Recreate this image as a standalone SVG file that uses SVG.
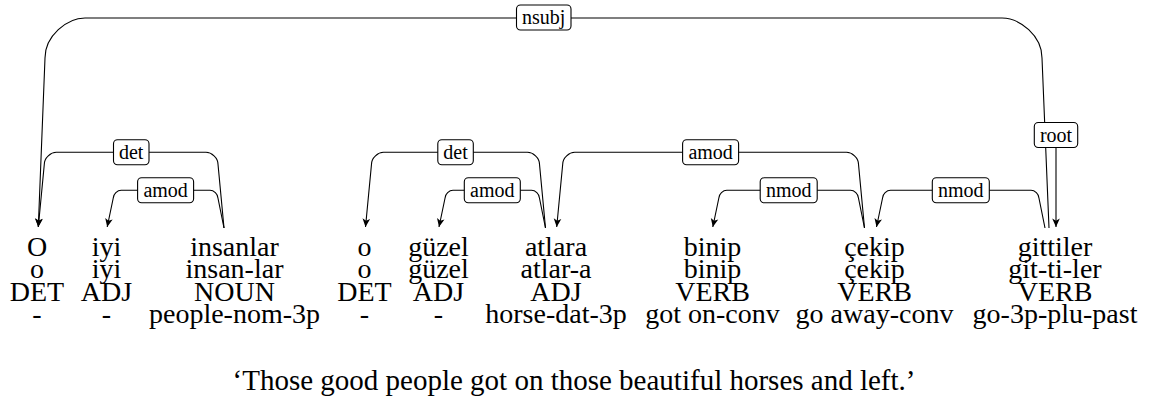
<svg xmlns="http://www.w3.org/2000/svg" width="1151" height="410" viewBox="0 0 1151 410">
  <style>
    .w { font-family: "Liberation Serif", "Times New Roman", serif; font-size: 28px; fill: #000; text-anchor: middle; }
    .tr { font-family: "Liberation Serif", "Times New Roman", serif; font-size: 29px; fill: #000; text-anchor: middle; }
    .lbl { font-family: "Liberation Serif", "Times New Roman", serif; font-size: 20px; fill: #000; text-anchor: middle; }
    .box { fill: #fff; stroke: #000; stroke-width: 1.1; }
    .edge { fill: none; stroke: #000; stroke-width: 1.1; }
    .dep { marker-end: url(#tip); }
  </style>
  <defs>
    <marker id="tip" markerUnits="userSpaceOnUse" viewBox="-10 -5 11 10" refX="0" refY="0" markerWidth="11" markerHeight="10" orient="auto">
      <path d="M0,0 L-8.5,-3.8 L-6.3,0 L-8.5,3.8 Z" fill="#000"/>
    </marker>
  </defs>

  <!-- dependency arcs: head (right) to dependent (left, arrowed) -->
  <g id="connectors">
    <path id="e-nsubj" class="edge dep" d="M1049,228 L1042,58 C1042,35.9 1019.9,18 1002,18 L85,18 C67.1,18 45,35.9 45,58 L38.3,227"/>
    <path id="e-det1" class="edge dep" d="M224,228 L218,164.3 C218,157.7 211.4,152.3 206,152.3 L56.3,152.3 C50.9,152.3 44.3,157.7 44.3,164.3 L38.3,227"/>
    <path id="e-amod1" class="edge dep" d="M224,228 L218,198.3 C218,193.9 213.6,190.3 210,190.3 L121.2,190.3 C117.6,190.3 113.2,193.9 113.2,198.3 L107.2,227"/>
    <path id="e-det2" class="edge dep" d="M545.5,228 L539.5,164.3 C539.5,157.7 532.9,152.3 527.5,152.3 L383.5,152.3 C378.1,152.3 371.5,157.7 371.5,164.3 L365.5,227"/>
    <path id="e-amod2" class="edge dep" d="M545.5,228 L539.5,198.3 C539.5,193.9 535.1,190.3 531.5,190.3 L453,190.3 C449.4,190.3 445,193.9 445,198.3 L439,227"/>
    <path id="e-amod3" class="edge dep" d="M864.5,228 L858.5,164.3 C858.5,157.7 851.9,152.3 846.5,152.3 L574.7,152.3 C569.3,152.3 562.7,157.7 562.7,164.3 L556.7,227"/>
    <path id="e-nmod1" class="edge dep" d="M864.5,228 L858.5,198.3 C858.5,193.9 854.1,190.3 850.5,190.3 L726.8,190.3 C723.2,190.3 718.8,193.9 718.8,198.3 L712.8,227"/>
    <path id="e-nmod2" class="edge dep" d="M1045,228 L1039,198.3 C1039,193.9 1034.6,190.3 1031,190.3 L890.5,190.3 C886.9,190.3 882.5,193.9 882.5,198.3 L876.5,227"/>
    <path id="e-root" class="edge dep" d="M1056,147.5 L1056,227"/>
  </g>

  <!-- arc labels -->
  <g id="edge-labels">
    <g id="l-nsubj"><rect class="box" x="516.5" y="5" width="54.5" height="25" rx="4"/><text class="lbl" x="543.7" y="24">nsubj</text></g>
    <g id="l-det1"><rect class="box" x="113.5" y="139.8" width="35.5" height="25" rx="4"/><text class="lbl" x="131.2" y="158.8">det</text></g>
    <g id="l-amod1"><rect class="box" x="137.6" y="177.8" width="56" height="25" rx="4"/><text class="lbl" x="165.6" y="196.8">amod</text></g>
    <g id="l-det2"><rect class="box" x="437.8" y="139.8" width="35.5" height="25" rx="4"/><text class="lbl" x="455.5" y="158.8">det</text></g>
    <g id="l-amod2"><rect class="box" x="464.3" y="177.8" width="56" height="25" rx="4"/><text class="lbl" x="492.3" y="196.8">amod</text></g>
    <g id="l-amod3"><rect class="box" x="682.6" y="139.8" width="56" height="25" rx="4"/><text class="lbl" x="710.6" y="158.8">amod</text></g>
    <g id="l-nmod1"><rect class="box" x="760.2" y="177.8" width="57" height="25" rx="4"/><text class="lbl" x="788.7" y="196.8">nmod</text></g>
    <g id="l-nmod2"><rect class="box" x="932.3" y="177.8" width="57" height="25" rx="4"/><text class="lbl" x="960.8" y="196.8">nmod</text></g>
    <g id="l-root"><rect class="box" x="1034.3" y="122.5" width="43.4" height="25" rx="4"/><text class="lbl" x="1056" y="141.5">root</text></g>
  </g>

  <!-- word columns: form / segmentation / POS / gloss -->
  <g id="w1"><text class="w" x="37" y="255.5">O</text><text class="w" x="37" y="278">o</text><text class="w" x="37" y="300.5">DET</text><text class="w" x="37" y="323">-</text></g>
  <g id="w2"><text class="w" x="106.5" y="255.5">iyi</text><text class="w" x="106.5" y="278">iyi</text><text class="w" x="106.5" y="300.5">ADJ</text><text class="w" x="106.5" y="323">-</text></g>
  <g id="w3"><text class="w" x="234.5" y="255.5">insanlar</text><text class="w" x="234.5" y="278">insan-lar</text><text class="w" x="234.5" y="300.5">NOUN</text><text class="w" x="234.5" y="323">people-nom-3p</text></g>
  <g id="w4"><text class="w" x="364.5" y="255.5">o</text><text class="w" x="364.5" y="278">o</text><text class="w" x="364.5" y="300.5">DET</text><text class="w" x="364.5" y="323">-</text></g>
  <g id="w5"><text class="w" x="438.5" y="255.5">güzel</text><text class="w" x="438.5" y="278">güzel</text><text class="w" x="438.5" y="300.5">ADJ</text><text class="w" x="438.5" y="323">-</text></g>
  <g id="w6"><text class="w" x="556" y="255.5">atlara</text><text class="w" x="556" y="278">atlar-a</text><text class="w" x="556" y="300.5">ADJ</text><text class="w" x="556" y="323">horse-dat-3p</text></g>
  <g id="w7"><text class="w" x="712.5" y="255.5">binip</text><text class="w" x="712.5" y="278">binip</text><text class="w" x="712.5" y="300.5">VERB</text><text class="w" x="712.5" y="323">got on-conv</text></g>
  <g id="w8"><text class="w" x="874.5" y="255.5">çekip</text><text class="w" x="874.5" y="278">çekip</text><text class="w" x="874.5" y="300.5">VERB</text><text class="w" x="874.5" y="323">go away-conv</text></g>
  <g id="w9"><text class="w" x="1055" y="255.5">gittiler</text><text class="w" x="1055" y="278">git-ti-ler</text><text class="w" x="1055" y="300.5">VERB</text><text class="w" x="1055" y="323">go-3p-plu-past</text></g>

  <g id="translation"><text class="tr" x="574" y="390">‘Those good people got on those beautiful horses and left.’</text></g>
</svg>
